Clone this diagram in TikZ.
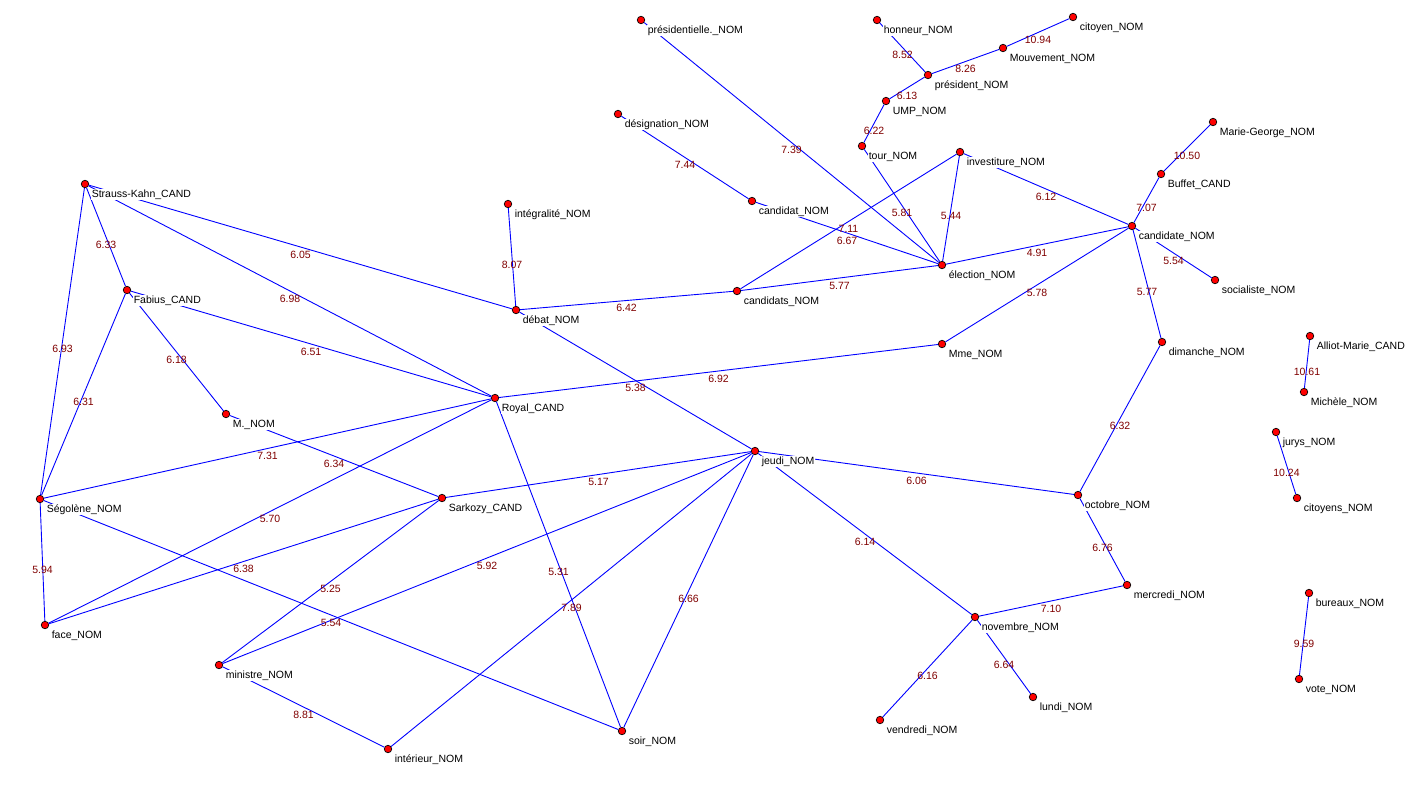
\documentclass[tikz,border=0pt]{standalone}
\usepackage{fontspec}
\setmainfont{Liberation Sans}
\definecolor{wred}{RGB}{128,0,0}
\definecolor{lblue}{RGB}{0,0,255}
\begin{document}
\begin{tikzpicture}[x=1pt,y=-1pt,
  dot/.style={circle,fill=red,draw=black,line width=0.7pt,minimum size=7.5pt,inner sep=0pt},
  edge/.style={draw=lblue,line width=0.9pt},
  nlab/.style={fill=white,inner sep=0.6pt,anchor=base west,font=\fontsize{10.5}{12}\selectfont,text=black},
  elab/.style={inner sep=0pt,anchor=base,yshift=-11pt,font=\fontsize{10.5}{12}\selectfont,text=wred}]
\useasboundingbox[fill=white] (0,0) rectangle (1427,788);
% vertices
\foreach \n/\x/\y in {sk/85/184, pres/641/20, desig/618/114, integ/508/204, honn/877/20,
  mouv/1003/48, presi/928/75, ump/886/101, tour/862/146, inv/960/152, cdt/752/201,
  elec/942/265, cit/1073/17, mg/1213/122, buf/1161/174, cde/1132/226, fab/127/290,
  m/226/414, seg/40/499, deb/516/310, roy/495/398, sar/442/498, cds/737/291,
  mme/942/344, jeu/755/451, soc/1215/280, dim/1162/342, am/1310/336, mic/1304/392,
  jur/1276/432, cits/1297/498, oct/1078/495, face/45/625, min/219/665, int/388/749,
  soir/622/731, nov/975/617, ven/880/720, lun/1033/697, mer/1127/585, bur/1309/593,
  vote/1299/679}
  \node[dot] (\n) at (\x,\y) {};
% edges
\foreach \a/\b in {sk/fab, sk/seg, sk/roy, sk/deb, fab/seg, fab/m, fab/roy, m/sar,
  seg/roy, seg/face, seg/soir, face/roy, face/sar, min/sar, min/jeu, min/int, int/jeu,
  roy/soir, jeu/soir, sar/jeu, deb/jeu, integ/deb, deb/cds, roy/mme, cds/elec, mme/cde,
  jeu/oct, desig/cdt, pres/elec, honn/presi, presi/mouv, mouv/cit, ump/presi, tour/ump,
  tour/elec, inv/elec, inv/cds, cdt/elec, elec/cde, inv/cde, buf/mg, cde/buf, cde/soc,
  cde/dim, dim/oct, am/mic, jur/cits, oct/mer, nov/mer, jeu/nov, nov/ven, nov/lun, bur/vote}
  \draw[edge] (\a) -- (\b);
% vertex labels
\foreach \n/\t in {sk/Strauss-Kahn\_CAND, pres/présidentielle.\_NOM, desig/désignation\_NOM,
  integ/intégralité\_NOM, honn/honneur\_NOM, mouv/Mouvement\_NOM, presi/président\_NOM,
  ump/UMP\_NOM, tour/tour\_NOM, inv/investiture\_NOM, cdt/candidat\_NOM, elec/élection\_NOM,
  cit/citoyen\_NOM, mg/Marie-George\_NOM, buf/Buffet\_CAND, cde/candidate\_NOM,
  fab/Fabius\_CAND, m/M.\_NOM, seg/Ségolène\_NOM, deb/débat\_NOM, roy/Royal\_CAND,
  sar/Sarkozy\_CAND, cds/candidats\_NOM, mme/Mme\_NOM, jeu/jeudi\_NOM, soc/socialiste\_NOM,
  dim/dimanche\_NOM, am/Alliot-Marie\_CAND, mic/Michèle\_NOM, jur/jurys\_NOM,
  cits/citoyens\_NOM, oct/octobre\_NOM, face/face\_NOM, min/ministre\_NOM,
  int/intérieur\_NOM, soir/soir\_NOM, nov/novembre\_NOM, ven/vendredi\_NOM,
  lun/lundi\_NOM, mer/mercredi\_NOM, bur/bureaux\_NOM, vote/vote\_NOM}
  \node[nlab] (\n-l) at ([xshift=6pt,yshift=-13pt]\n.center) {\t};
% edge weights
\foreach \a/\b/\w in {sk/fab/6.33, sk/seg/6.93, sk/roy/6.98, sk/deb/6.05, fab/seg/6.31,
  fab/m/6.18, fab/roy/6.51, m/sar/6.34, seg/roy/7.31, seg/face/5.94, seg/soir/5.54,
  face/roy/5.70, face/sar/6.38, min/sar/5.25, min/jeu/5.92, min/int/8.81, int/jeu/7.89,
  roy/soir/5.31, jeu/soir/6.66, sar/jeu/5.17, deb/jeu/5.38, integ/deb/8.07, deb/cds/6.42,
  roy/mme/6.92, cds/elec/5.77, mme/cde/5.78, jeu/oct/6.06, desig/cdt/7.44, pres/elec/7.39,
  honn/presi/8.52, presi/mouv/8.26, mouv/cit/10.94, ump/presi/6.13, tour/ump/6.22,
  tour/elec/5.81, inv/elec/5.44, inv/cds/7.11, cdt/elec/6.67, elec/cde/4.91, inv/cde/6.12,
  buf/mg/10.50, cde/buf/7.07, cde/soc/5.54, cde/dim/5.77, dim/oct/6.32, am/mic/10.61,
  jur/cits/10.24, oct/mer/6.76, nov/mer/7.10, jeu/nov/6.14, nov/ven/6.16, nov/lun/6.64,
  bur/vote/9.59}
  \path (\a.center) -- (\b.center) node[elab,midway] (\a-\b-w) {\w};
\end{tikzpicture}
\end{document}
